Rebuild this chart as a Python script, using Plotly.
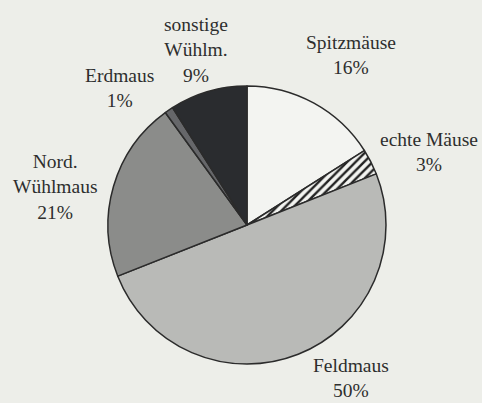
import plotly.graph_objects as go

categories = ["Spitzmäuse", "echte Mäuse", "Feldmaus", "Nord. Wühlmaus", "Erdmaus", "sonstige Wühlm."]
values = [16, 3, 50, 21, 1, 9]
label_texts = ["Spitzmäuse<br>16%", "echte Mäuse<br>3%", "Feldmaus<br>50%",
               "Nord.<br>Wühlmaus<br>21%", "Erdmaus<br>1%", "sonstige<br>Wühlm.<br>9%"]

W, H = 482, 403
bg = "#edeee9"
colors = ["#f3f4f1", "#f3f4f1", "#b9bab7", "#8b8c8a", "#66676a", "#2a2c2f"]
shapes = ["", "/", "", "", "", ""]

# label block centres in pixels (layout positions)
label_px = [(351, 55), (429, 152), (351, 378), (55, 187), (119, 88), (196, 50)]

cx, cy, r = 247, 225, 139

fig = go.Figure(go.Pie(
    labels=categories,
    values=values,
    sort=False,
    direction="clockwise",
    rotation=0,
    textinfo="none",
    hoverinfo="label+percent",
    marker=dict(
        colors=colors,
        line=dict(color="#2b2b2b", width=1.5),
        pattern=dict(shape=shapes, fgcolor="#222222", bgcolor="#f3f4f1",
                     size=6, solidity=0.4),
    ),
    domain=dict(x=[(cx - r) / W, (cx + r) / W], y=[1 - (cy + r) / H, 1 - (cy - r) / H]),
    showlegend=False,
))

for txt, (px, py) in zip(label_texts, label_px):
    fig.add_annotation(
        text=txt, x=px / W, y=1 - py / H, xref="paper", yref="paper",
        xanchor="center", yanchor="middle", showarrow=False, align="center",
        font=dict(family="Liberation Serif", size=19.5, color="#2e2e2e"),
    )

fig.update_layout(
    width=W, height=H,
    margin=dict(l=0, r=0, t=0, b=0),
    paper_bgcolor=bg, plot_bgcolor=bg,
)

fig.write_html(
    "out.html",
    config={"displayModeBar": False},
    post_script="document.body.style.margin='0';document.body.style.overflow='hidden';",
)
